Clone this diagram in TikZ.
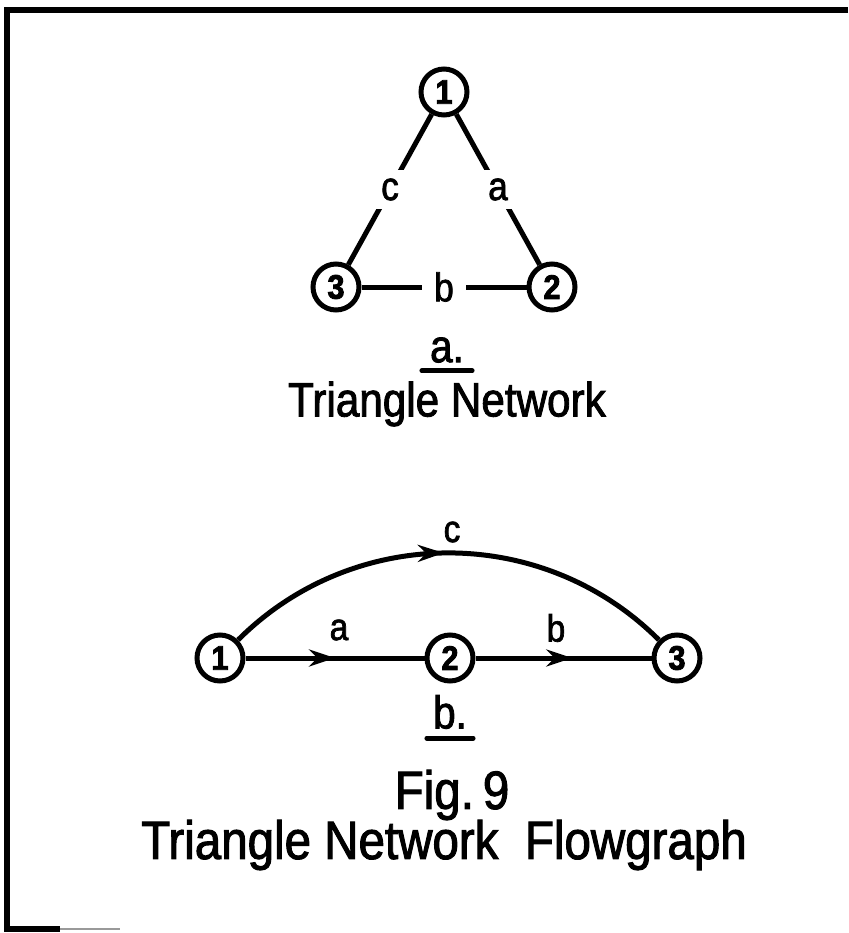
\documentclass[tikz,border=0pt]{standalone}
\usepackage{fontspec}
\setmainfont{Liberation Sans}[FakeStretch=0.88,FakeBold=1.8]
\newfontfamily\numfont{Liberation Sans}[FakeStretch=0.9,FakeBold=2.5]
\usetikzlibrary{arrows.meta,decorations.markings,calc}
\tikzset{
  vert/.style={circle,draw,line width=5pt,minimum size=46pt,inner sep=0pt,font=\fontsize{34}{34}\numfont\bfseries},
  edge/.style={line width=5pt},
  elabel/.style={font=\fontsize{40}{40}\selectfont,inner sep=9pt,fill=white},
  flabel/.style={font=\fontsize{38}{38}\selectfont,inner sep=2pt},
  midarrow/.style={postaction={decorate,decoration={markings,mark=at position #1 with {\arrow{Stealth[length=26pt,width=17pt]}}}}},
  title/.style={font=\fontsize{#1}{#1}\selectfont,inner sep=0pt},
  uline/.style={line width=5pt,line cap=round}
}
\begin{document}
\begin{tikzpicture}[x=1pt,y=-1pt]
\useasboundingbox (0,0) rectangle (848,933);
% frame
\draw[line width=5.5pt] (848,10) -- (7,10) -- (7,929) -- (60,929);
\draw[line width=2pt,black!40] (60,929) -- (120,929);
% (a) triangle network
\node[vert] (t1) at (444,92) {1};
\node[vert] (t2) at (552,287) {2};
\node[vert] (t3) at (336,287) {3};
\draw[edge] (t1) -- node[elabel] (lc) {c} (t3);
\draw[edge] (t1) -- node[elabel] (la) {a} (t2);
\draw[edge] (t3) -- node[elabel,inner xsep=12pt] (lb) {b} (t2);
\node[title=46] (capa) at (447,350) {a.};
\draw[uline] ($(capa.south west)+(-8,8)$) -- ($(capa.south east)+(8,8)$);
\node[title=48] (tna) at (447,404) {Triangle Network};
% (b) flowgraph
\node[vert] (f1) at (220,658) {1};
\node[vert] (f2) at (450,658) {2};
\node[vert] (f3) at (677,658) {3};
\draw[edge,midarrow=0.5] (f1) -- (f2);
\draw[edge,midarrow=0.55] (f2) -- (f3);
\draw[edge,midarrow=0.49] (f1) to[out=45,in=135] (f3);
\node[flabel] (fa) at (339,630) {a};
\node[flabel] (fb) at (556,628) {b};
\node[flabel] (fc) at (452,532) {c};
\node[title=46] (capb) at (450,712) {b.};
\draw[uline] ($(capb.south west)+(-6,9)$) -- ($(capb.south east)+(6,9)$);
\node[title=54] (fig) at (452,795) {Fig.\,9};
\node[title=54] (tnf) at (444,845) {Triangle Network\ \ Flowgraph};
\end{tikzpicture}
\end{document}
